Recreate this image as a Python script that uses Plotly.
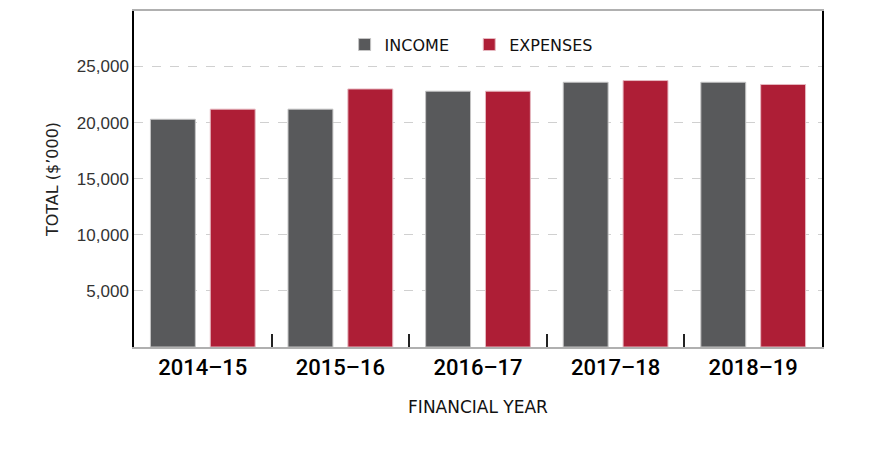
import plotly.graph_objects as go

years = ["2014–15", "2015–16", "2016–17", "2017–18", "2018–19"]
income = [20300, 21200, 22800, 23600, 23600]
expenses = [21200, 23000, 22800, 23750, 23400]

fig = go.Figure()
fig.add_trace(go.Bar(name="INCOME\u00a0\u00a0\u00a0", x=years, y=income,
                     marker=dict(color="#58595b", line=dict(color="#c4c4c4", width=1))))
fig.add_trace(go.Bar(name="EXPENSES", x=years, y=expenses,
                     marker=dict(color="#ae1e36", line=dict(color="#e6b8c0", width=1))))

fig.update_layout(
    width=896, height=455,
    margin=dict(l=126, r=82, t=1, b=116),
    paper_bgcolor="white", plot_bgcolor="white",
    barmode="group", bargap=0.13, bargroupgap=0.25,
    font=dict(family="Liberation Sans", color="#222"),
    legend=dict(orientation="h", x=0.49, xanchor="center", y=0.9, yanchor="middle",
                font=dict(size=16, color="#111", family="DejaVu Sans"), itemwidth=30,
                traceorder="normal"),
    showlegend=True,
)
fig.update_xaxes(
    showline=True, linecolor="#b0b0b0", linewidth=1.5, mirror=True,
    ticks="inside", tickson="boundaries", ticklen=13, tickwidth=2, tickcolor="#222",
    tickfont=dict(size=22, color="#000", family="Roboto", weight=500),
    title=dict(text="FINANCIAL YEAR", font=dict(size=17, color="#111", family="DejaVu Sans"), standoff=22),
    showgrid=False,
)
fig.update_yaxes(
    range=[0, 29950], tickvals=[5000, 10000, 15000, 20000, 25000],
    tickformat=",d", showline=True, linecolor="#000", linewidth=1.5, mirror=True,
    showgrid=True, gridcolor="#d0d0d0", griddash="dash", gridwidth=1,
    tickfont=dict(size=17, color="#333"), ticks="",
    title=dict(text="TOTAL ($’000)", font=dict(size=16, color="#222", family="DejaVu Sans"), standoff=14),
    zeroline=False,
)

fig.write_html("out.html")
